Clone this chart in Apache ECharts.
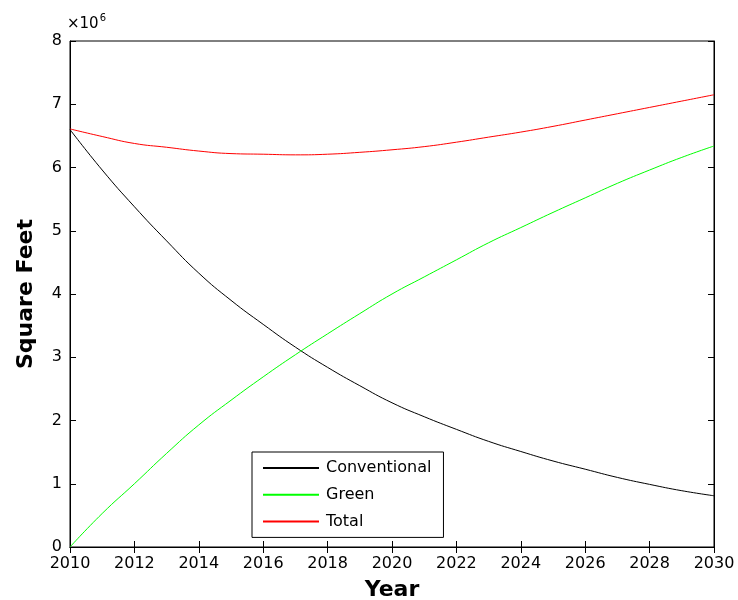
<!DOCTYPE html>
<html>
<head>
<meta charset="utf-8">
<script src="https://cdn.jsdelivr.net/npm/echarts@6/dist/echarts.min.js"></script>
<style>html,body{margin:0;padding:0;background:#fff;}#c{width:738px;height:600px;}</style>
</head>
<body>
<div id="c"></div>
<script>
const years = [2010,2011,2012,2013,2014,2015,2016,2017,2018,2019,2020,2021,2022,2023,2024,2025,2026,2027,2028,2029,2030];
const conventional = [6.60,5.96,5.38,4.84,4.33,3.90,3.52,3.16,2.84,2.55,2.28,2.06,1.86,1.67,1.51,1.36,1.23,1.10,0.99,0.89,0.81];
const green = [0.00,0.53,1.00,1.48,1.93,2.32,2.69,3.04,3.37,3.69,4.00,4.27,4.54,4.81,5.05,5.29,5.52,5.75,5.96,6.16,6.34];
const total = [6.61,6.49,6.38,6.32,6.26,6.22,6.21,6.20,6.21,6.24,6.28,6.33,6.40,6.48,6.56,6.65,6.75,6.85,6.95,7.05,7.15];
const seriesNames = ['Conventional','Green','Total'];
const xLabel = 'Year';
const yLabel = 'Square Feet';

const chart = echarts.init(document.getElementById('c'));
const font = 'DejaVu Sans, Liberation Sans, sans-serif';
const pair = arr => years.map((y,i)=>[y,arr[i]]);
const tickStyle = {show:true, inside:true, length:6, lineStyle:{color:'#000', width:1}};
chart.setOption({
  animation:false,
  backgroundColor:'#fff',
  grid:{left:70, right:24, top:41, bottom:53, outerBoundsMode:'none', containLabel:false, show:true, borderColor:'#000', borderWidth:1, backgroundColor:'#fff'},
  xAxis:[{
    type:'value', min:2010, max:2030, interval:2,
    axisLine:{show:true, lineStyle:{color:'#000'}},
    axisTick:tickStyle,
    splitLine:{show:false},
    axisLabel:{color:'#000', fontFamily:font, fontSize:16, margin:9, formatter:v=>String(v)},
    name:xLabel, nameLocation:'middle', nameGap:32,
    nameTextStyle:{color:'#000', fontFamily:font, fontSize:22, fontWeight:'bold'}
  },{
    type:'value', position:'top', min:2010, max:2030, interval:2,
    axisLine:{show:true, lineStyle:{color:'#000'}},
    axisTick:tickStyle, axisLabel:{show:false}, splitLine:{show:false}
  }],
  yAxis:[{
    type:'value', min:0, max:8, interval:1,
    axisLine:{show:true, lineStyle:{color:'#000'}},
    axisTick:tickStyle,
    splitLine:{show:false},
    axisLabel:{color:'#000', fontFamily:font, fontSize:16, margin:8},
    name:yLabel, nameLocation:'middle', nameGap:33,
    nameTextStyle:{color:'#000', fontFamily:font, fontSize:22, fontWeight:'bold'}
  },{
    type:'value', position:'right', min:0, max:8, interval:1,
    axisLine:{show:true, lineStyle:{color:'#000'}},
    axisTick:tickStyle, axisLabel:{show:false}, splitLine:{show:false}
  }],
  legend:{
    orient:'vertical', left:252, top:452,
    data:seriesNames,
    backgroundColor:'#fff', borderColor:'#000', borderWidth:1,
    padding:[8,12,8,10], itemWidth:56, itemHeight:16, itemGap:10.7,
    itemStyle:{opacity:0},
    textStyle:{color:'#000', fontFamily:font, fontSize:16, padding:[0,0,0,2]}
  },
  graphic:[{
    type:'text', left:67, top:13,
    style:{text:'{a|×10}{b|6}', rich:{
      a:{fontFamily:font, fontSize:15, fill:'#000', verticalAlign:'bottom'},
      b:{fontFamily:font, fontSize:10, fill:'#000', verticalAlign:'top', padding:[0,0,9,1]}
    }}
  }],
  series:[
    {name:seriesNames[0], type:'line', data:pair(conventional), symbol:'none', smooth:true, lineStyle:{color:'#000', width:1}, itemStyle:{color:'#000'}},
    {name:seriesNames[1], type:'line', data:pair(green), symbol:'none', smooth:true, lineStyle:{color:'#00ff00', width:1}, itemStyle:{color:'#00ff00'}},
    {name:seriesNames[2], type:'line', data:pair(total), symbol:'none', smooth:true, lineStyle:{color:'#ff0000', width:1}, itemStyle:{color:'#ff0000'}}
  ]
});
</script>
</body>
</html>
